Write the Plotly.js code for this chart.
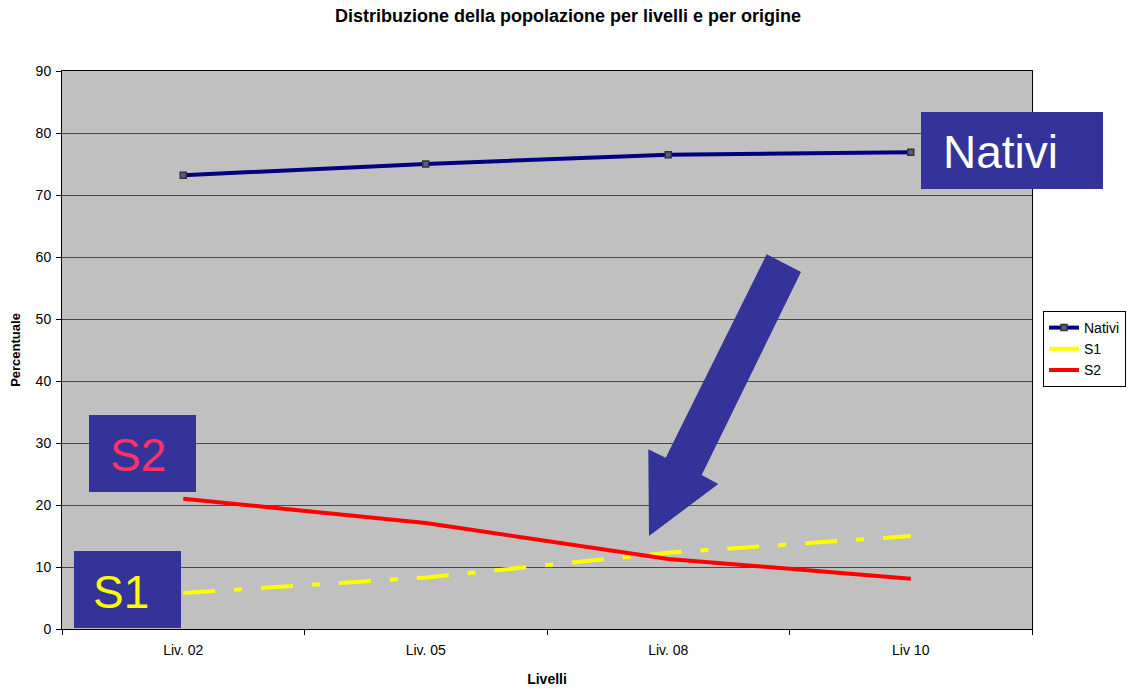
<!DOCTYPE html>
<html>
<head>
<meta charset="utf-8">
<script src="https://cdn.plot.ly/plotly-3.0.1.min.js"></script>
<style>html,body{margin:0;padding:0;background:#fff;}#chart{width:1144px;height:691px;}</style>
</head>
<body>
<div id="chart"></div>
<script>
// ---- data ----
const categories = ["Liv. 02", "Liv. 05", "Liv. 08", "Liv 10"];
const nativi = [73.2, 75.0, 76.5, 76.9];
const s1 = [5.8, 8.3, 12.3, 15.0];
const s2 = [21.0, 17.1, 11.3, 8.1];
const seriesNames = ["Nativi", "S1", "S2"];
const yTicks = [0, 10, 20, 30, 40, 50, 60, 70, 80, 90];

// ---- geometry helpers (pixel -> paper) ----
const W = 1144, H = 691;
const L = 62, R = 1032, T = 71, B = 629;
const px = x => (x - L) / (R - L);
const py = y => (B - y) / (B - T);
const FONT = "Liberation Sans, Arial, sans-serif";
const BOX = "#333399";

const traces = [
  {
    x: categories, y: nativi, name: seriesNames[0], type: "scatter", mode: "lines+markers",
    line: {color: "#000080", width: 4},
    marker: {symbol: "square", size: 6, color: "#5a5a8a", line: {color: "#333333", width: 1.5}}
  },
  {
    x: categories, y: s1, name: seriesNames[1], type: "scatter", mode: "lines",
    line: {color: "#FFFF00", width: 4, dash: "32px,19px,8px,19px"}
  },
  {
    x: categories, y: s2, name: seriesNames[2], type: "scatter", mode: "lines",
    line: {color: "#FF0000", width: 4}
  }
];

function rect(x0, y0, x1, y1) {
  return {type: "rect", xref: "paper", yref: "paper", x0: px(x0), x1: px(x1), y0: py(y1), y1: py(y0),
          fillcolor: BOX, line: {width: 0}, layer: "above"};
}
const arrowPts = [[766.7,254.3],[801,272],[701.7,475],[718.3,484],[649,536],[648.3,449.3],[665.7,457.7]];
const arrowPath = "M " + arrowPts.map(p => px(p[0]).toFixed(5) + "," + py(p[1]).toFixed(5)).join(" L ") + " Z";

const layout = {
  width: W, height: H,
  margin: {l: L, r: W - R, t: T, b: H - B, pad: 0},
  paper_bgcolor: "#ffffff",
  plot_bgcolor: "#C0C0C0",
  font: {family: FONT, size: 14, color: "#000"},
  title: {
    text: "<b>Distribuzione della popolazione per livelli e per origine</b>",
    font: {family: FONT, size: 18, color: "#000"},
    x: 0.4965, xanchor: "center", y: 1 - 16/H, yanchor: "middle"
  },
  xaxis: {
    type: "category", range: [-0.5, 3.5],
    tickson: "boundaries", ticks: "outside", ticklen: 5, tickcolor: "#000",
    ticklabelstandoff: 8,
    showgrid: false, showline: true, linecolor: "#000", linewidth: 1, mirror: true,
    tickfont: {family: FONT, size: 14},
    title: {text: "<b>Livelli</b>", font: {family: FONT, size: 14}, standoff: 17},
    zeroline: false
  },
  yaxis: {
    range: [0, 90], tickvals: yTicks, ticks: "outside", ticklen: 5, tickcolor: "#000",
    ticklabelstandoff: 2,
    showgrid: true, gridcolor: "#4a4a4a", gridwidth: 1,
    showline: true, linecolor: "#000", linewidth: 1, mirror: true,
    tickfont: {family: FONT, size: 14},
    title: {text: "<b>Percentuale</b>", font: {family: FONT, size: 13}, standoff: 12},
    zeroline: false
  },
  showlegend: true,
  legend: {
    x: px(1043), y: py(311), xanchor: "left", yanchor: "top",
    bgcolor: "#ffffff", bordercolor: "#000", borderwidth: 1,
    font: {family: FONT, size: 14}, tracegroupgap: 0, itemwidth: 30
  },
  shapes: [
    rect(921, 112, 1103, 189),
    rect(89, 415, 196, 492),
    rect(74, 551, 181, 628),
    {type: "path", xref: "paper", yref: "paper", path: arrowPath, fillcolor: BOX, line: {width: 0}, layer: "above"}
  ],
  annotations: [
    {xref: "paper", yref: "paper", x: px(1000), y: py(152), text: "Nativi", showarrow: false,
     xanchor: "center", yanchor: "middle", font: {family: FONT, size: 46, color: "#ffffff"}},
    {xref: "paper", yref: "paper", x: px(138), y: py(455), text: "S2", showarrow: false,
     xanchor: "center", yanchor: "middle", font: {family: FONT, size: 46, color: "#FF3366"}},
    {xref: "paper", yref: "paper", x: px(121), y: py(592), text: "S1", showarrow: false,
     xanchor: "center", yanchor: "middle", font: {family: FONT, size: 46, color: "#FFFF00"}}
  ]
};

Plotly.newPlot("chart", traces, layout, {displayModeBar: false, responsive: false});
</script>
</body>
</html>
